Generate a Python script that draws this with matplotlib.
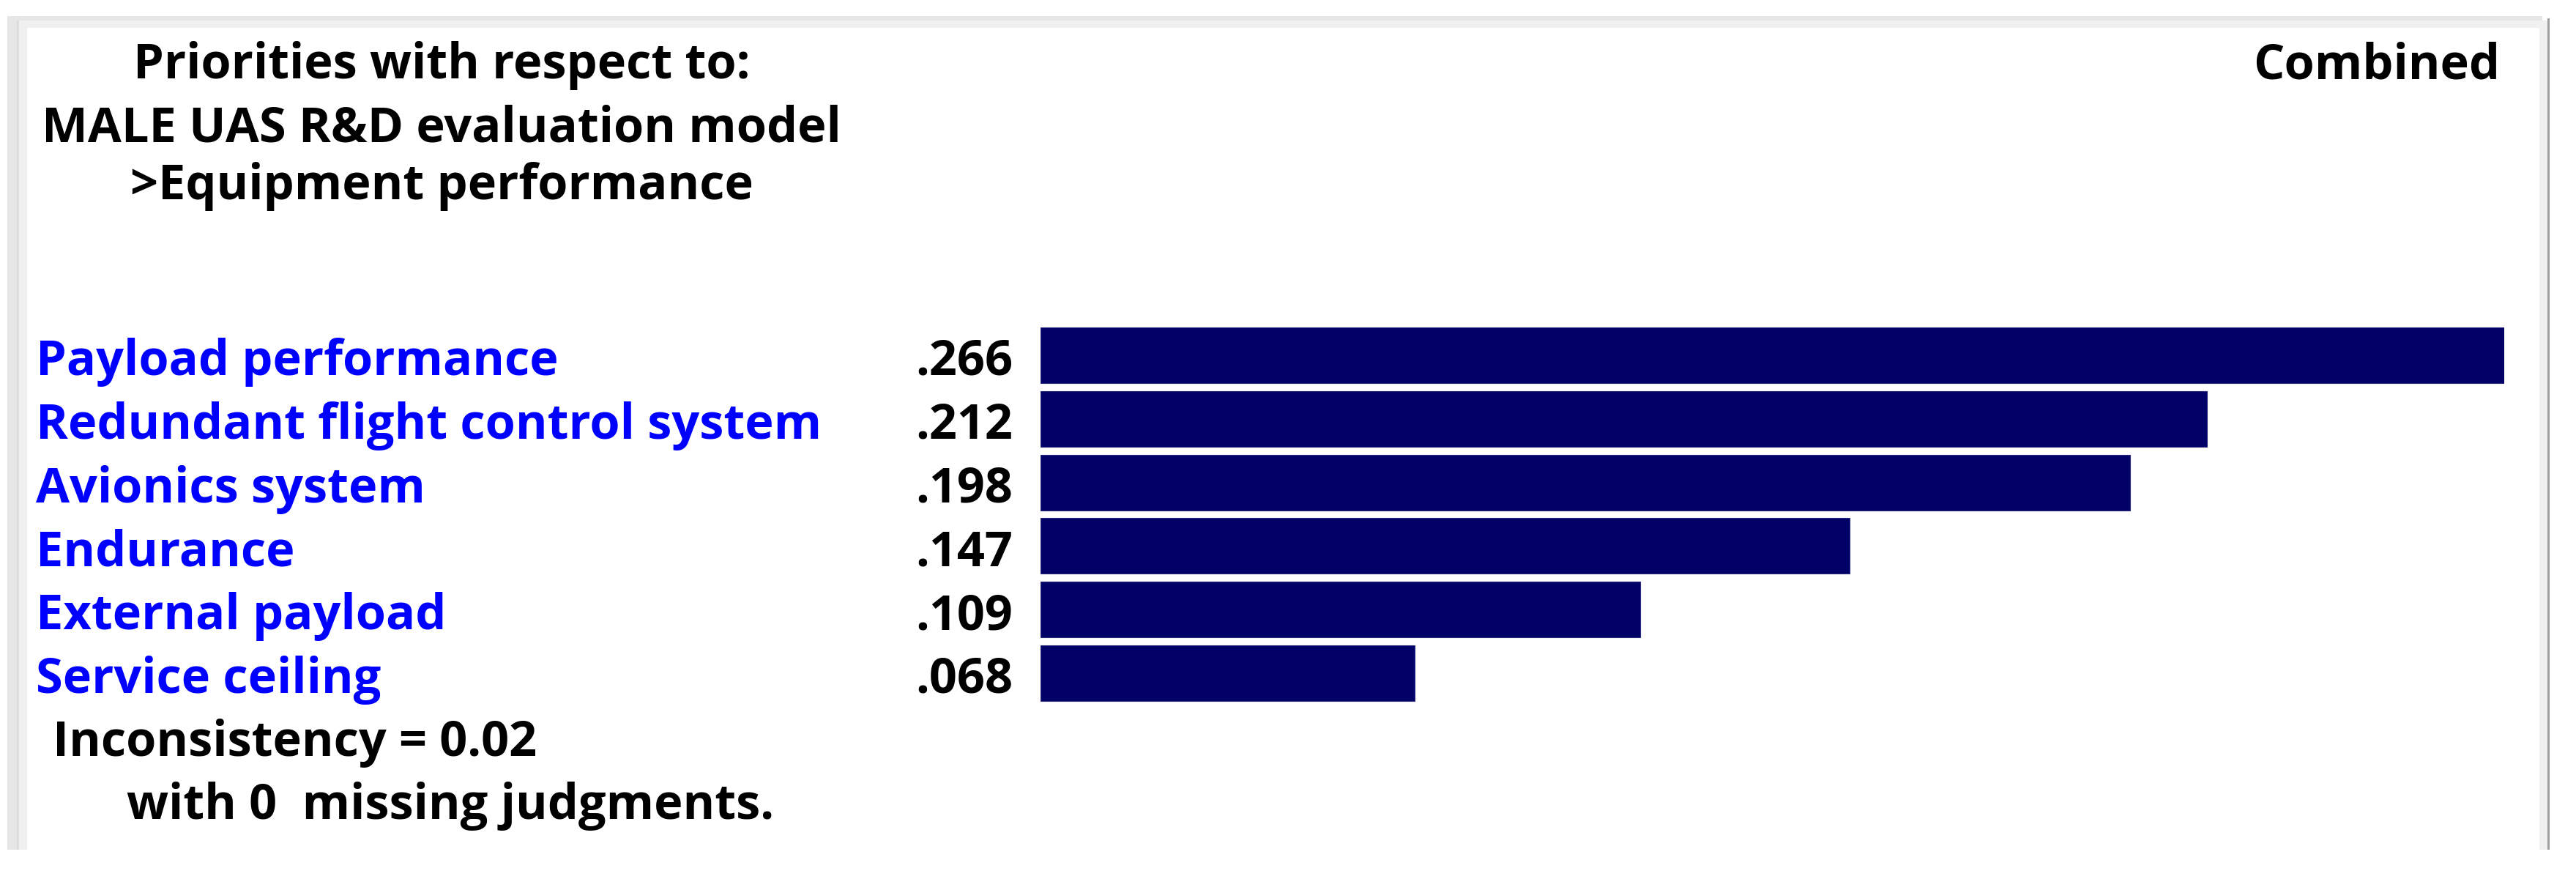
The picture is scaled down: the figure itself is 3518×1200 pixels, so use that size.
import matplotlib
matplotlib.use("Agg")
import matplotlib.pyplot as plt
from matplotlib.patches import Rectangle
from matplotlib.transforms import blended_transform_factory

# ---- data ----
categories = ["Payload performance", "Redundant flight control system",
              "Avionics system", "Endurance", "External payload", "Service ceiling"]
values = [0.266, 0.212, 0.198, 0.147, 0.109, 0.068]
value_labels = [".266", ".212", ".198", ".147", ".109", ".068"]
header_lines = ["Priorities with respect to:", "MALE UAS R&D evaluation model",
                ">Equipment performance"]
right_header = "Combined"
footer_lines = ["Inconsistency = 0.02", "with 0  missing judgments."]

W, H = 3518, 1200
DPI = 100
fig = plt.figure(figsize=(W / DPI, H / DPI), dpi=DPI)
fig.patch.set_facecolor("white")

FONT = ["Open Sans", "DejaVu Sans"]
FS = 48

def fx(px):
    return px / W

def fy(py):
    return 1 - py / H

# ---- window frame ----
frame = fig.add_axes([0, 0, 1, 1], zorder=0)
frame.set_xlim(0, W)
frame.set_ylim(H, 0)
frame.axis("off")
frame.add_patch(Rectangle((10, 22), 3472 - 10, 1160 - 22, facecolor="#e6e6e6", edgecolor="none"))
frame.add_patch(Rectangle((23, 28), 3479 - 23, 1160 - 28, facecolor="#f0f0f0", edgecolor="none"))
frame.add_patch(Rectangle((37, 38), 3468 - 37, 1160 - 38, facecolor="white", edgecolor="none"))
frame.add_patch(Rectangle((3479, 25), 3, 1160 - 25, facecolor="#a0a0a0", edgecolor="none"))
frame.add_patch(Rectangle((23, 28), 3, 1160 - 28, facecolor="#dcdcdc", edgecolor="none"))

# ---- bars ----
bar_left_px, bar_right_px = 1421, 3420
row_pitch = 86.8
top_px = 485 - row_pitch / 2
n = len(categories)
ax = fig.add_axes([fx(bar_left_px), fy(top_px + n * row_pitch),
                   fx(bar_right_px - bar_left_px), (n * row_pitch) / H], zorder=1)
ax.set_xlim(0, max(values))
ax.set_ylim(n - 0.5, -0.5)
ax.axis("off")
ax.patch.set_alpha(0)
ypos = list(range(n))
ax.barh(ypos, values, height=0.875, color="#000066", edgecolor="#2a2a80", linewidth=0.8)

trans = blended_transform_factory(fig.transFigure, ax.transData)
for i, (cat, lab) in enumerate(zip(categories, value_labels)):
    ax.text(fx(49), i + 0.31, cat, transform=trans, ha="left", va="baseline",
            fontsize=FS, fontweight="bold", color="#0000ff", family=FONT, clip_on=False)
    ax.text(fx(1383), i + 0.31, lab, transform=trans, ha="right", va="baseline",
            fontsize=FS, fontweight="bold", color="black", family=FONT, clip_on=False)

# ---- header / footer text ----
for line, base in zip(header_lines, [107, 193, 272]):
    fig.text(fx(603), fy(base), line, ha="center", va="baseline", fontsize=FS,
             fontweight="bold", color="black", family=FONT)
fig.text(fx(3414), fy(107), right_header, ha="right", va="baseline", fontsize=FS,
         fontweight="bold", color="black", family=FONT)
fig.text(fx(72), fy(1032), footer_lines[0], ha="left", va="baseline", fontsize=FS,
         fontweight="bold", color="black", family=FONT)
fig.text(fx(173), fy(1118), footer_lines[1], ha="left", va="baseline", fontsize=FS,
         fontweight="bold", color="black", family=FONT)

fig.savefig("out.png", dpi=DPI, facecolor="white")
